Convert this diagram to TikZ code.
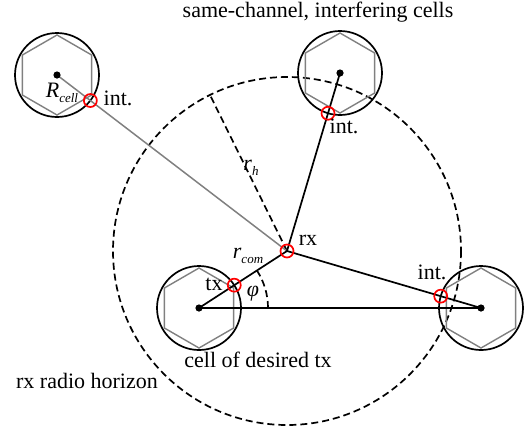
\documentclass[tikz,border=0pt]{standalone}
\usepackage{fontspec}
\setmainfont{Liberation Serif}
\usetikzlibrary{calc,angles}
\tikzset{
  cellcirc/.style={draw=black, line width=1.7bp},
  hexa/.style={draw=black!50, line width=1.4bp, line join=miter},
  blk/.style={draw=black, line width=1.7bp},
  grayline/.style={draw=black!50, line width=1.5bp},
  dsh/.style={draw=black, line width=1.7bp, dash pattern=on 7bp off 4bp},
  marker/.style={circle, draw=red, line width=1.7bp, minimum size=13bp, inner sep=0pt},
  lbl/.style={inner sep=0pt, font=\fontsize{22bp}{26bp}\selectfont},
}
\newcommand{\sbs}[1]{\raisebox{-0.45ex}{\fontsize{13bp}{14bp}\selectfont\textit{#1}}}
\begin{document}
\begin{tikzpicture}[x=1bp, y=-1bp]
\useasboundingbox (0,0) rectangle (526,427);
\coordinate (c1) at (57,75);
\coordinate (c2) at (340,73);
\coordinate (c3) at (481,308);
\coordinate (c4) at (199,308);
\coordinate (rx) at (287,251);
\coordinate (hz) at ($(rx)!174bp!(210,95)$);

% radio horizon
\draw[dsh] (rx) circle (174);
\draw[dsh] (rx) -- (hz);

% cells
\foreach \c in {c1,c2,c3,c4}{
  \draw[cellcirc] (\c) circle (42);
  \draw[hexa] ($(\c)+(30:40)$) -- ($(\c)+(90:40)$) -- ($(\c)+(150:40)$) -- ($(\c)+(210:40)$) -- ($(\c)+(270:40)$) -- ($(\c)+(330:40)$) -- cycle;
}

% links
\draw[grayline] (c1) -- (rx);
\draw[blk] (c2) -- (rx);
\draw[blk] (c3) -- (rx);
\draw[blk] (c4) -- (rx);
\draw[blk, line width=2bp] (c4) -- (c3);
\pic[dsh, angle radius=69bp] {angle = c3--c4--rx};

\foreach \c in {c1,c2,c3,c4}{ \fill (\c) circle (3.6); }

% markers
\node[marker] (mrx) at (rx) {};
\node[marker] (mtx) at ($(c4)!42bp!(rx)$) {};
\node[marker] (m1) at ($(c1)!42bp!(rx)$) {};
\node[marker] (m2) at ($(c2)!42bp!(rx)$) {};
\node[marker] (m3) at ($(c3)!42bp!(rx)$) {};

% labels
\node[lbl] (title) at (318,12) {same-channel, interfering cells};
\node[lbl] (rcell) at (62,93) {\textit{R}\sbs{cell}};
\node[lbl] (i1) at (118,98) {int.};
\node[lbl] (i2) at (344,126) {int.};
\node[lbl] (i3) at (432,272) {int.};
\node[lbl] (rh) at (251,168) {\textit{r}\sbs{h}};
\node[lbl] (rxl) at (308,240) {rx};
\node[lbl] (rcom) at (248,256) {\textit{r}\sbs{com}};
\node[lbl] (txl) at (214,284) {tx};
\node[lbl] (phi) at (253,294) {\textit{φ}};
\node[lbl] (desired) at (258,360) {cell of desired tx};
\node[lbl] (horizon) at (87,381) {rx radio horizon};
\end{tikzpicture}
\end{document}
